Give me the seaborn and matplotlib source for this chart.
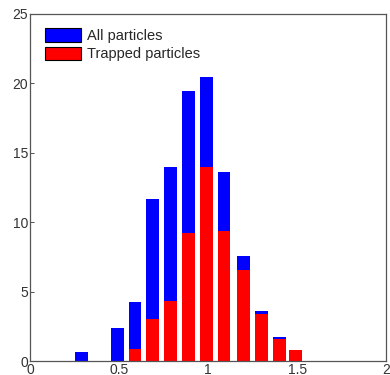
import matplotlib
matplotlib.use("Agg")
import pandas as pd
import seaborn as sns
import matplotlib.pyplot as plt

# histogram bin centres and heights
centers = [0.29, 0.49, 0.59, 0.69, 0.79, 0.89, 0.99, 1.09, 1.20, 1.30, 1.40, 1.49]
all_particles = [0.63, 2.4, 4.23, 11.66, 14.0, 19.47, 20.45, 13.65, 7.55, 3.58, 1.75, 0.79]
trapped_particles = [0.0, 0.0, 0.84, 3.0, 4.35, 9.2, 13.96, 9.4, 6.56, 3.39, 1.59, 0.79]

df = pd.DataFrame({"center": centers,
                   "all": all_particles,
                   "trapped": trapped_particles})

sns.set_style("ticks")
plt.rcParams["font.family"] = ["Liberation Sans", "DejaVu Sans"]
plt.rcParams["xtick.direction"] = "in"
plt.rcParams["ytick.direction"] = "in"

fig = plt.figure(figsize=(3.9, 3.75), dpi=100)
ax = fig.add_axes([0.077, 0.037, 0.913, 0.926])

sns.barplot(data=df, x="center", y="all", native_scale=True, width=0.8,
            color="#0000ff", saturation=1, linewidth=0, label="All particles", ax=ax)
sns.barplot(data=df, x="center", y="trapped", native_scale=True, width=0.8,
            color="#ff0000", saturation=1, linewidth=0, label="Trapped particles", ax=ax)

ax.set_xlim(0, 2)
ax.set_ylim(0, 25)
ax.set_xticks([0, 0.5, 1, 1.5, 2])
ax.set_xticklabels(["0", "0.5", "1", "1.5", "2"])
ax.set_yticks([0, 5, 10, 15, 20, 25])
ax.set_xlabel("")
ax.set_ylabel("")
ax.tick_params(labelsize=10, length=3, width=0.6, colors="#333333", pad=1.5)
for s in ax.spines.values():
    s.set_color("#555555")
    s.set_linewidth(0.9)

leg = ax.legend(loc="upper left", frameon=False, fontsize=10.5,
                handlelength=2.5, handleheight=1.0, handletextpad=0.4,
                labelspacing=0.25, borderaxespad=0.6)
for h in leg.legend_handles:
    h.set_edgecolor("black")
    h.set_linewidth(0.8)

fig.savefig("out.png", dpi=100)
